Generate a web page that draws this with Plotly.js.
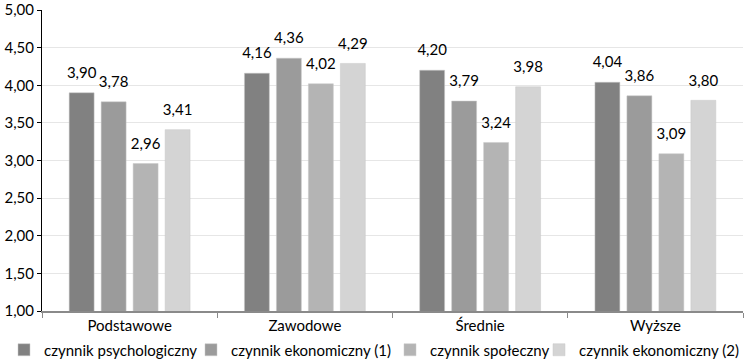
<!DOCTYPE html>
<html>
<head>
<meta charset="utf-8">
<script src="https://cdn.plot.ly/plotly-3.0.1.min.js"></script>
<style>html,body{margin:0;padding:0;background:#fff;}#chart{width:744px;height:362px;}</style>
</head>
<body>
<div id="chart"></div>
<script>
const categories = ["Podstawowe", "Zawodowe", "Średnie", "Wyższe"];
const seriesNames = ["czynnik psychologiczny", "czynnik ekonomiczny (1)", "czynnik społeczny", "czynnik ekonomiczny (2)"];
const psychologiczny = [3.90, 4.16, 4.20, 4.04];
const ekonomiczny1 = [3.78, 4.36, 3.79, 3.86];
const spoleczny = [2.96, 4.02, 3.24, 3.09];
const ekonomiczny2 = [3.41, 4.29, 3.98, 3.80];
const yTicks = [1.0, 1.5, 2.0, 2.5, 3.0, 3.5, 4.0, 4.5, 5.0];
const yTickLabels = ["1,00", "1,50", "2,00", "2,50", "3,00", "3,50", "4,00", "4,50", "5,00"];

const colors = ["#818181", "#9b9b9b", "#b4b4b4", "#d4d4d4"];
const values = [psychologiczny, ekonomiczny1, spoleczny, ekonomiczny2];
const font = "Lato, 'Open Sans', sans-serif";
const legendIds = ["legend", "legend2", "legend3", "legend4"];
const legendTextStart = [44, 231, 430, 579];

const bars = values.map((v, i) => ({
  type: "bar",
  name: seriesNames[i],
  legend: legendIds[i],
  x: categories,
  y: v,
  marker: {color: colors[i], line: {color: "#c8c8c8", width: 0.5}},
  hoverinfo: "skip"
}));
const labels = values.map((v, i) => ({
  type: "scatter",
  mode: "markers+text",
  showlegend: false,
  x: categories,
  y: v,
  marker: {size: 16, color: "rgba(0,0,0,0)"},
  texttemplate: "%{y:.2f}",
  textposition: "top center",
  cliponaxis: false,
  textfont: {family: font, size: 15, color: "#000"},
  hoverinfo: "skip"
}));

const layout = {
  width: 744, height: 362,
  margin: {l: 42, r: 1, t: 10, b: 51, autoexpand: false},
  paper_bgcolor: "#fff", plot_bgcolor: "#fff",
  separators: ", ",
  barmode: "group",
  bargap: 0.27,
  bargroupgap: 0.22,
  scattermode: "group",
  scattergap: 0.27,
  showlegend: true,
  font: {family: font, size: 15, color: "#000"},
  xaxis: {
    type: "category",
    showline: true, linecolor: "#8a8a8a", linewidth: 1.5,
    ticks: "outside", tickson: "boundaries", ticklen: 5, tickcolor: "#8a8a8a",
    showgrid: false,
    tickfont: {family: font, size: 15, color: "#000"}
  },
  yaxis: {
    range: [1, 5],
    tickmode: "array", tickvals: yTicks, ticktext: yTickLabels,
    showline: true, linecolor: "#000", linewidth: 1,
    ticks: "outside", ticklen: 4, tickcolor: "#000",
    showgrid: true, gridcolor: "#e6e6e6", gridwidth: 1,
    zeroline: false,
    tickfont: {family: font, size: 15, color: "#000"}
  }
};
legendIds.forEach((id, i) => {
  layout[id] = {
    orientation: "h",
    xref: "container", yref: "container",
    x: (legendTextStart[i] - 40) / 744, xanchor: "left",
    y: 12 / 362, yanchor: "middle",
    font: {family: font, size: 15, color: "#000"},
    bgcolor: "rgba(0,0,0,0)", borderwidth: 0
  };
});

Plotly.newPlot("chart", bars.concat(labels), layout, {displayModeBar: false, staticPlot: true});
</script>
</body>
</html>
